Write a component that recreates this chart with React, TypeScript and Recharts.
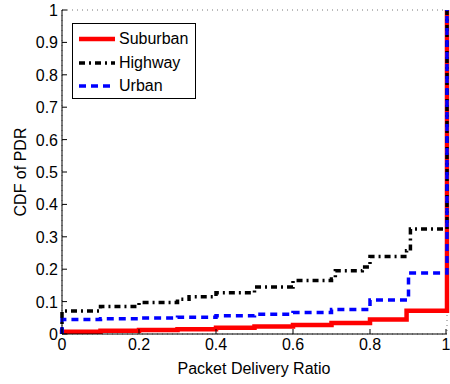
import { LineChart, Line, XAxis, YAxis, CartesianGrid } from 'recharts'

// step CDF values
const suburbanX = [0, 0, 0.1, 0.2, 0.3, 0.4, 0.5, 0.6, 0.7, 0.8, 0.895, 1]
const suburbanY = [0, 0.007, 0.01, 0.012, 0.015, 0.019, 0.023, 0.028, 0.034, 0.045, 0.072, 1]

const highwayX = [0, 0, 0.1, 0.2, 0.3, 0.33, 0.4, 0.5, 0.6, 0.7, 0.71, 0.78, 0.8, 0.895, 0.905, 1]
const highwayY = [0, 0.071, 0.085, 0.097, 0.107, 0.115, 0.127, 0.145, 0.165, 0.17, 0.195, 0.207, 0.239, 0.257, 0.324, 1]

const urbanX = [0, 0, 0.1, 0.2, 0.3, 0.4, 0.5, 0.6, 0.7, 0.8, 0.9, 1]
const urbanY = [0, 0.045, 0.047, 0.049, 0.052, 0.056, 0.061, 0.066, 0.076, 0.105, 0.188, 1]

const xTicks = [0, 0.2, 0.4, 0.6, 0.8, 1]
const yTicks = [0, 0.1, 0.2, 0.3, 0.4, 0.5, 0.6, 0.7, 0.8, 0.9, 1]

const SERIES = [
  { name: 'Suburban', xs: suburbanX, ys: suburbanY, color: '#ff0000', width: 4.5, dash: undefined },
  { name: 'Highway', xs: highwayX, ys: highwayY, color: '#000000', width: 3.5, dash: '6 4 2 4' },
  { name: 'Urban', xs: urbanX, ys: urbanY, color: '#0000ff', width: 3.5, dash: '7 5' },
]

const FONT = '"Liberation Sans", Arial, Helvetica, sans-serif'

const BottomTick = ({ x, y, payload }: any) => (
  <g>
    <line x1={x} x2={x} y1={y - 4} y2={y - 9} stroke="#000" />
    <text x={x} y={y + 12} textAnchor="middle" fontSize={16} fontFamily={FONT} fill="#000">
      {String(payload.value)}
    </text>
  </g>
)

const LeftTick = ({ x, y, payload }: any) => (
  <g>
    <line x1={x + 4} x2={x + 9} y1={y} y2={y} stroke="#000" />
    <text x={x} y={y + 6} textAnchor="end" fontSize={16} fontFamily={FONT} fill="#000">
      {String(payload.value)}
    </text>
  </g>
)

const TopTick = ({ x, y }: any) => (
  <line x1={x} x2={x} y1={y + 4} y2={y + 9} stroke="#000" />
)

const RightTick = ({ x, y }: any) => (
  <line x1={x - 4} x2={x - 9} y1={y} y2={y} stroke="#000" />
)

export default function App() {
  return (
    <div style={{ position: 'absolute', left: 0, top: 0, width: 450, height: 384, background: '#fff' }}>
      <LineChart width={450} height={384} margin={{ top: 10, right: 3, bottom: 0, left: 0 }}>
        <CartesianGrid stroke="#777" strokeDasharray="1 4" />
        <XAxis
          xAxisId="b" dataKey="x" type="number" domain={[0, 1]} ticks={xTicks} height={50}
          tickSize={0} tickMargin={4} tick={<BottomTick />} axisLine={{ stroke: '#000' }} tickLine={false}
        />
        <XAxis
          xAxisId="t" orientation="top" dataKey="x" type="number" domain={[0, 1]} ticks={xTicks} height={0}
          tickSize={0} tickMargin={4} tick={<TopTick />} axisLine={{ stroke: '#000' }} tickLine={false}
        />
        <YAxis
          yAxisId="l" type="number" domain={[0, 1]} ticks={yTicks} width={62}
          tickSize={0} tickMargin={4} tick={<LeftTick />} axisLine={{ stroke: '#000' }} tickLine={false}
        />
        <YAxis
          yAxisId="r" orientation="right" type="number" domain={[0, 1]} ticks={yTicks} width={0}
          tickSize={0} tickMargin={4} tick={<RightTick />} axisLine={{ stroke: '#000' }} tickLine={false}
        />
        {SERIES.map(s => (
          <Line
            key={s.name}
            xAxisId="b"
            yAxisId="l"
            data={s.xs.map((x, i) => ({ x, y: s.ys[i] }))}
            dataKey="y"
            name={s.name}
            type="stepAfter"
            stroke={s.color}
            strokeWidth={s.width}
            strokeDasharray={s.dash}
            dot={false}
            activeDot={false}
            isAnimationActive={false}
          />
        ))}
        <text
          x={20} y={172} transform="rotate(-90 20 172)" textAnchor="middle" dominantBaseline="central"
          fontSize={16} fontFamily={FONT} fill="#000"
        >
          CDF of PDR
        </text>
        <text x={254} y={374} textAnchor="middle" fontSize={16} fontFamily={FONT} fill="#000">
          Packet Delivery Ratio
        </text>
      </LineChart>
      {/* legend box, top-left inside the axes */}
      <div
        style={{
          position: 'absolute', left: 72, top: 23, width: 122, height: 74,
          border: '1px solid #000', background: '#fff', fontFamily: FONT, fontSize: 16,
        }}
      >
        {SERIES.map((s, i) => (
          <div key={s.name} style={{ position: 'absolute', left: 6, top: 5 + i * 23.5, height: 20, display: 'flex', alignItems: 'center' }}>
            <svg width={37} height={20}>
              <line x1={0} x2={36} y1={10} y2={10} stroke={s.color} strokeWidth={s.width} strokeDasharray={s.dash} />
            </svg>
            <span style={{ marginLeft: 3, lineHeight: '20px' }}>{s.name}</span>
          </div>
        ))}
      </div>
    </div>
  )
}
